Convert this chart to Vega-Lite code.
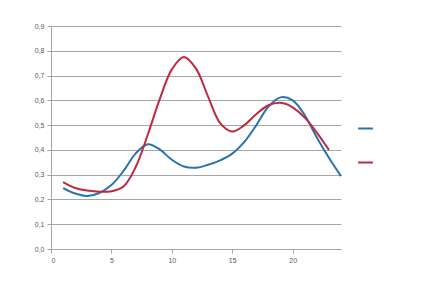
{
  "$schema": "https://vega.github.io/schema/vega-lite/v6.json",
  "width": 290,
  "height": 223,
  "autosize": {"type": "none"},
  "padding": {"left": 51, "top": 26, "right": 97, "bottom": 43},
  "background": "white",
  "config": {"view": {"stroke": null}},
  "data": {"values": [
    {"x": 1, "y": 0.246, "s": "Series1"},
    {"x": 2, "y": 0.224, "s": "Series1"},
    {"x": 3, "y": 0.214, "s": "Series1"},
    {"x": 4, "y": 0.226, "s": "Series1"},
    {"x": 5, "y": 0.258, "s": "Series1"},
    {"x": 6, "y": 0.315, "s": "Series1"},
    {"x": 7, "y": 0.385, "s": "Series1"},
    {"x": 8, "y": 0.423, "s": "Series1"},
    {"x": 9, "y": 0.402, "s": "Series1"},
    {"x": 10, "y": 0.36, "s": "Series1"},
    {"x": 11, "y": 0.333, "s": "Series1"},
    {"x": 12, "y": 0.328, "s": "Series1"},
    {"x": 13, "y": 0.34, "s": "Series1"},
    {"x": 14, "y": 0.358, "s": "Series1"},
    {"x": 15, "y": 0.385, "s": "Series1"},
    {"x": 16, "y": 0.432, "s": "Series1"},
    {"x": 17, "y": 0.5, "s": "Series1"},
    {"x": 18, "y": 0.575, "s": "Series1"},
    {"x": 19, "y": 0.612, "s": "Series1"},
    {"x": 20, "y": 0.6, "s": "Series1"},
    {"x": 21, "y": 0.54, "s": "Series1"},
    {"x": 22, "y": 0.45, "s": "Series1"},
    {"x": 23, "y": 0.368, "s": "Series1"},
    {"x": 24, "y": 0.294, "s": "Series1"},
    {"x": 1, "y": 0.27, "s": "Series2"},
    {"x": 2, "y": 0.246, "s": "Series2"},
    {"x": 3, "y": 0.236, "s": "Series2"},
    {"x": 4, "y": 0.231, "s": "Series2"},
    {"x": 5, "y": 0.233, "s": "Series2"},
    {"x": 6, "y": 0.252, "s": "Series2"},
    {"x": 7, "y": 0.33, "s": "Series2"},
    {"x": 8, "y": 0.46, "s": "Series2"},
    {"x": 9, "y": 0.605, "s": "Series2"},
    {"x": 10, "y": 0.725, "s": "Series2"},
    {"x": 11, "y": 0.775, "s": "Series2"},
    {"x": 12, "y": 0.728, "s": "Series2"},
    {"x": 13, "y": 0.615, "s": "Series2"},
    {"x": 14, "y": 0.508, "s": "Series2"},
    {"x": 15, "y": 0.474, "s": "Series2"},
    {"x": 16, "y": 0.5, "s": "Series2"},
    {"x": 17, "y": 0.545, "s": "Series2"},
    {"x": 18, "y": 0.58, "s": "Series2"},
    {"x": 19, "y": 0.59, "s": "Series2"},
    {"x": 20, "y": 0.572, "s": "Series2"},
    {"x": 21, "y": 0.53, "s": "Series2"},
    {"x": 22, "y": 0.47, "s": "Series2"},
    {"x": 23, "y": 0.4, "s": "Series2"}
  ]},
  "mark": {"type": "line", "interpolate": "catmull-rom", "strokeWidth": 2},
  "encoding": {
    "x": {
      "field": "x", "type": "quantitative",
      "scale": {"domain": [0, 24], "nice": false, "zero": false},
      "axis": {
        "title": null, "values": [0, 5, 10, 15, 20], "grid": false,
        "domainColor": "#a6a6a6", "tickColor": "#a6a6a6", "tickSize": 4,
        "labelFontSize": 7, "labelColor": "#595959", "labelFont": "Liberation Sans",
        "labelPadding": 3
      }
    },
    "y": {
      "field": "y", "type": "quantitative",
      "scale": {"domain": [0, 0.9], "nice": false},
      "axis": {
        "title": null, "values": [0, 0.1, 0.2, 0.3, 0.4, 0.5, 0.6, 0.7, 0.8, 0.9],
        "labelExpr": "replace(format(datum.value, '.1f'), '.', ',')",
        "gridColor": "#a6a6a6", "gridWidth": 1,
        "domainColor": "#a6a6a6", "tickColor": "#a6a6a6", "tickSize": 4,
        "labelFontSize": 7, "labelColor": "#595959", "labelFont": "Liberation Sans",
        "labelPadding": 3
      }
    },
    "color": {
      "field": "s", "type": "nominal",
      "scale": {"domain": ["Series1", "Series2"], "range": ["#2a72b0", "#c0283f"]},
      "legend": {
        "title": null, "orient": "none", "legendX": 306, "legendY": 94,
        "symbolType": "stroke", "symbolStrokeWidth": 2, "symbolSize": 220,
        "labelExpr": "''", "labelFontSize": 8, "rowPadding": 21
      }
    }
  }
}
